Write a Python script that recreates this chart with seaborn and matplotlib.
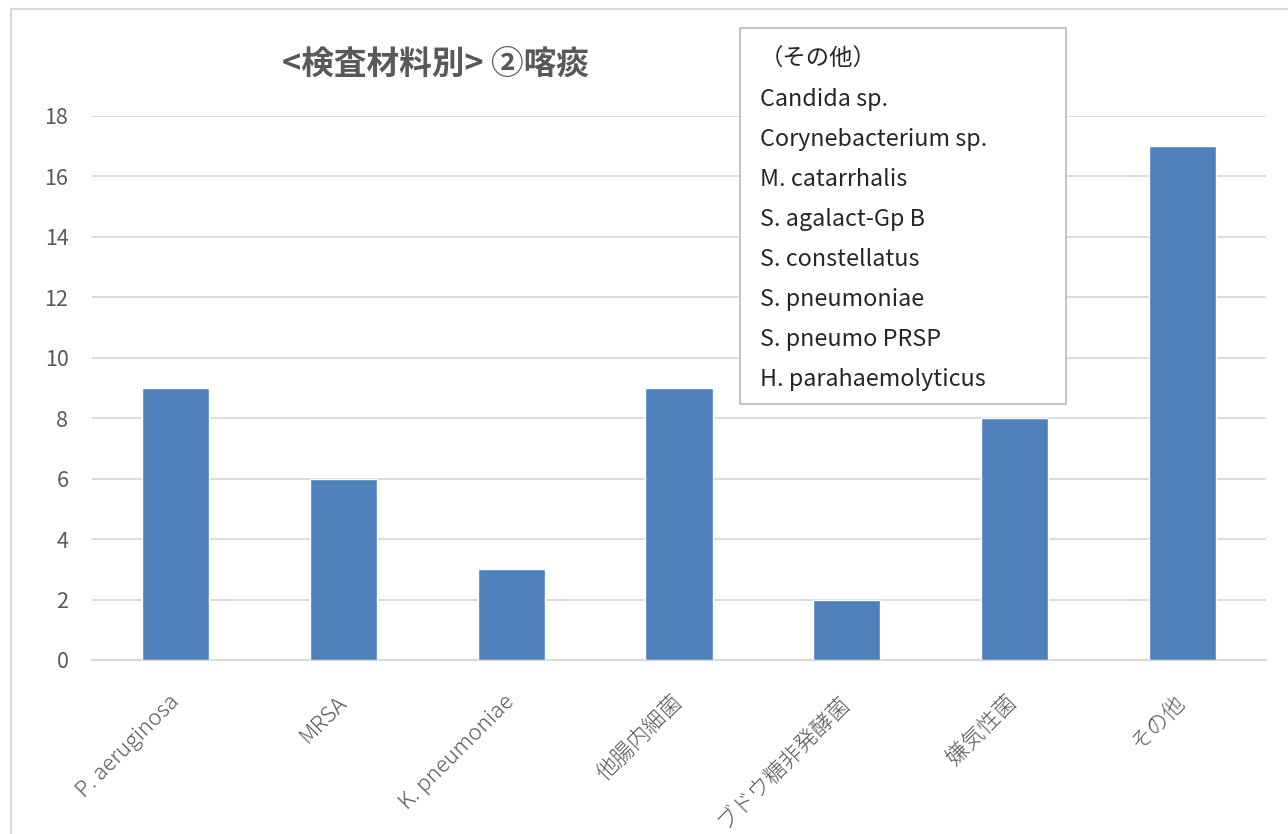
import numpy as np
import pandas as pd
import seaborn as sns
import matplotlib.pyplot as plt
from matplotlib.patches import Rectangle

# data
categories = ['P. aeruginosa', 'MRSA', 'K. pneumoniae', '他腸内細菌',
              'ブドウ糖非発酵菌', '嫌気性菌', 'その他']
counts = [9, 6, 3, 9, 2, 8, 17]
yticks = [0, 2, 4, 6, 8, 10, 12, 14, 16, 18]
title = '<検査材料別> ②喀痰'
other_title = '（その他）'
other_list = ['Candida sp.', 'Corynebacterium sp.', 'M. catarrhalis',
              'S. agalact-Gp B', 'S. constellatus', 'S. pneumoniae',
              'S. pneumo PRSP', 'H. parahaemolyticus']

sns.set_theme(style='white')
plt.rcParams['font.family'] = ['Noto Sans CJK JP', 'DejaVu Sans']

W, H = 1288, 834
fig = plt.figure(figsize=(W / 100, H / 100), dpi=100)
ax = fig.add_axes([92 / W, 1 - 660 / H, (1266 - 92) / W, (660 - 116) / H])

df = pd.DataFrame({'cat': categories, 'n': counts})
sns.barplot(data=df, x='cat', y='n', color='#4F81BD', saturation=1,
            width=0.40, ax=ax, zorder=3)

ax.set_xlim(-0.5, len(categories) - 0.5)
ax.set_ylim(0, 18)
ax.set_yticks(yticks)
ax.set_xlabel('')
ax.set_ylabel('')
ax.grid(axis='y', color='#D9D9D9', linewidth=1.3, zorder=0)
for s in ['top', 'right', 'left']:
    ax.spines[s].set_visible(False)
ax.spines['bottom'].set_color('#D9D9D9')
ax.spines['bottom'].set_linewidth(1.5)
ax.tick_params(axis='y', length=0, pad=17, labelsize=15.5, labelcolor='#595959')
ax.tick_params(axis='x', length=0, pad=28, labelsize=16, labelcolor='#595959')
plt.setp(ax.get_xticklabels(), rotation=45, ha='right', va='center',
         rotation_mode='anchor', fontweight='light')

# title, placed like the original (not centred)
fig.text(435 / W, 1 - 64 / H, title, ha='center', va='center', fontsize=23.5,
         fontweight='bold', color='#595959')

# outer chart border
fig.add_artist(Rectangle((11 / W, -0.05), 1.1, 1 - 9 / H + 0.05,
                         transform=fig.transFigure, fill=False,
                         edgecolor='#D9D9D9', linewidth=1.5))

# text box listing the "other" organisms
bx0, bx1, by0, by1 = 740, 1066, 28, 404
fig.add_artist(Rectangle((bx0 / W, 1 - by1 / H), (bx1 - bx0) / W, (by1 - by0) / H,
                         transform=fig.transFigure, facecolor='white',
                         edgecolor='#BFBFBF', linewidth=1.3, zorder=5))
lines = [other_title] + other_list
for i, t in enumerate(lines):
    fig.text(760 / W, 1 - (59 + i * 40.1) / H, t, ha='left', va='center',
             fontsize=16.8, color='#262626', zorder=6)

fig.savefig('out.png', dpi=100)
